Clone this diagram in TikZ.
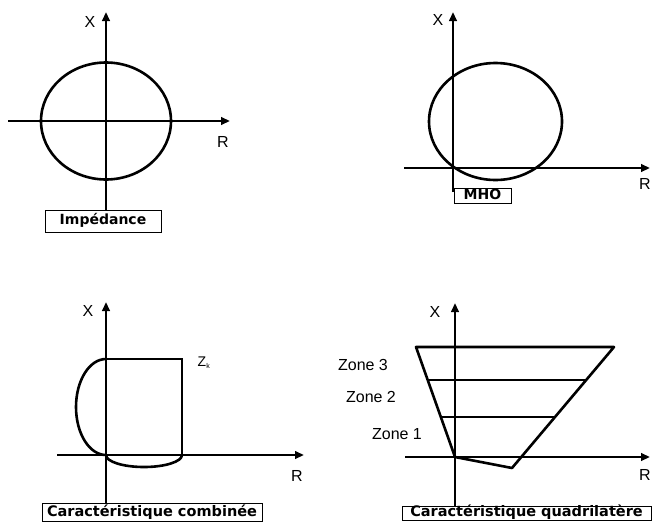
\documentclass[tikz,border=0pt]{standalone}
\usepackage{fontspec}
\setmainfont{Liberation Sans}
\newfontfamily\capfont{DejaVu Sans}
\usetikzlibrary{arrows.meta,positioning}
\tikzset{
    axis/.style={draw,line width=2.7pt,-{Triangle[length=9pt,width=7.5pt]}},
    curve/.style={draw,line width=2.6pt},
    axlabel/.style={inner sep=0pt,font=\fontsize{16}{16}\selectfont},
    zone/.style={inner sep=0pt,font=\fontsize{16}{16}\selectfont},
    caption/.style={draw,line width=0.9pt,fill=white,inner sep=0pt,
        text height=10pt,text depth=3pt,
        font=\capfont\bfseries\fontsize{14.5}{14.5}\selectfont},
}

\begin{document}
\begin{tikzpicture}[x=1pt,y=-1pt]
    \useasboundingbox (0,0) rectangle (652,522);

    % impedance
    \coordinate (o1) at (106,121);
    \coordinate (t1) at (106,12);
    \coordinate (b1) at (106,210);
    \coordinate (l1) at (8,121);
    \coordinate (r1) at (230,121);
    \draw[axis] (b1) -- (t1);
    \draw[axis] (l1) -- (r1);
    \draw[curve] (o1) ellipse [x radius=65, y radius=58.5];
    \node[axlabel] (x1) at (90,22) {X};
    \node[axlabel] (R1) at (223,142) {R};
    \node[caption,minimum width=116pt,minimum height=22pt,font=\capfont\bfseries\fontsize{14}{14}\selectfont] (cap1) at (103,221) {Impédance};

    % mho
    \coordinate (o2) at (453,168);
    \coordinate (t2) at (453,12);
    \coordinate (b2) at (453,192);
    \coordinate (l2) at (404,168);
    \coordinate (r2) at (650,168);
    \draw[axis] (b2) -- (t2);
    \draw[axis] (l2) -- (r2);
    \draw[curve] (495.5,121.5) ellipse [x radius=66.5, y radius=58.5];
    \node[axlabel] (x2) at (438,20) {X};
    \node[axlabel] (R2) at (645,184) {R};
    \node[caption,minimum width=57pt,minimum height=15pt,font=\capfont\bfseries\fontsize{14}{14}\selectfont] (cap2) at (482.5,195.5) {MHO};

    % combinee
    \coordinate (o3) at (106,455);
    \coordinate (t3) at (106,302);
    \coordinate (b3) at (106,504);
    \coordinate (l3) at (57,455);
    \coordinate (r3) at (304,455);
    \coordinate (zt) at (106,359);
    \coordinate (zk) at (182,359);
    \coordinate (zb) at (182,455);
    \draw[axis] (b3) -- (t3);
    \draw[axis] (l3) -- (r3);
    \draw[curve] (zt) -- (zk) -- (zb);
    \draw[curve] (zt) arc[start angle=-90, end angle=-270, x radius=30, y radius=48];
    \draw[curve] (o3) arc[start angle=180, end angle=0, x radius=38, y radius=12];
    \node[inner sep=0pt,font=\fontsize{14}{14}\selectfont] (zkl) at (204,363) {Z\textsubscript{\fontsize{7}{7}\selectfont k}};
    \node[axlabel] (x3) at (88,311) {X};
    \node[axlabel] (R3) at (297,476) {R};
    \node[caption,minimum width=220pt,minimum height=18pt] (cap3) at (152,512.5) {Caractéristique combinée};

    % quadrilatere
    \coordinate (o4) at (455,457);
    \coordinate (t4) at (455,303);
    \coordinate (b4) at (455,508);
    \coordinate (l4) at (405,457);
    \coordinate (r4) at (650,457);
    \coordinate (q3l) at (416,347);
    \coordinate (q3r) at (614,347);
    \coordinate (q2l) at (428,380);
    \coordinate (q2r) at (586,380);
    \coordinate (q1l) at (441,417);
    \coordinate (q1r) at (555,417);
    \coordinate (qb) at (512,468);
    \draw[axis] (b4) -- (t4);
    \draw[axis] (l4) -- (r4);
    \draw[curve,line join=round] (o4) -- (q3l) -- (q3r) -- (qb) -- cycle;
    \draw[curve] (q2l) -- (q2r);
    \draw[curve] (q1l) -- (q1r);
    \node[axlabel] (x4) at (435,312) {X};
    \node[axlabel] (R4) at (645,475) {R};
    \node[zone] (z3) at (363,365) {Zone 3};
    \node[zone] (z2) at (371,397) {Zone 2};
    \node[zone] (z1) at (397,434) {Zone 1};
    \node[caption,minimum width=249pt,minimum height=14pt] (cap4) at (526.5,513) {Caractéristique quadrilatère};
\end{tikzpicture}
\end{document}
